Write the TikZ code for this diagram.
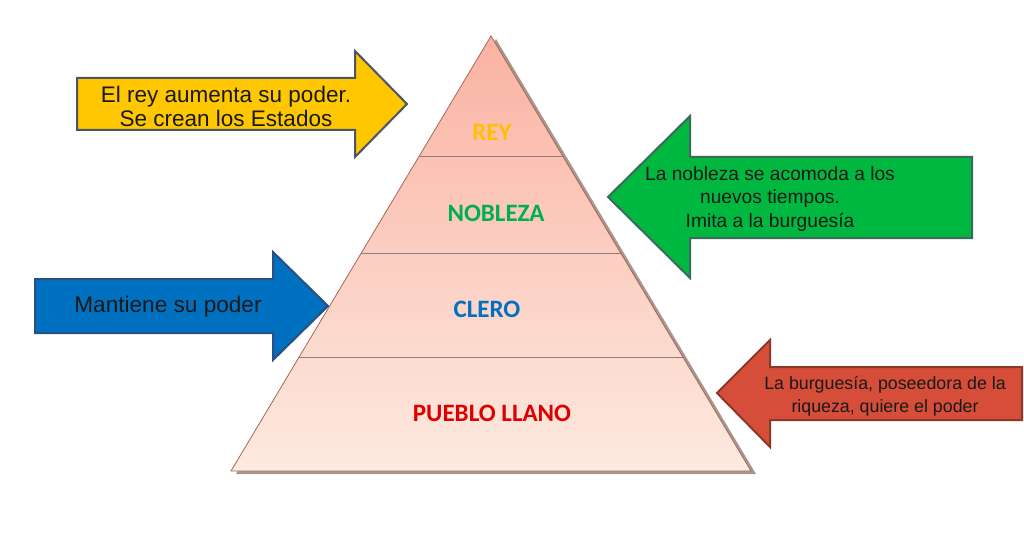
\documentclass[tikz,border=0pt]{standalone}
\usepackage{fontspec}
\setmainfont{Liberation Sans}
\newfontfamily\labelfont{Carlito}
\usetikzlibrary{calc}
\definecolor{pyrtop}{RGB}{250,178,162}
\definecolor{pyrbot}{RGB}{253,234,224}
\definecolor{pyredge}{RGB}{170,100,85}
\definecolor{divline}{RGB}{140,125,135}
\definecolor{shadowc}{RGB}{165,152,142}
\definecolor{yfill}{RGB}{255,199,0}
\definecolor{gfill}{RGB}{0,184,64}
\definecolor{bfill}{RGB}{0,112,192}
\definecolor{rfill}{RGB}{214,78,58}
\definecolor{yedge}{RGB}{75,85,100}
\definecolor{gedge}{RGB}{60,105,90}
\definecolor{bedge}{RGB}{40,80,130}
\definecolor{redge}{RGB}{140,55,40}
\definecolor{reyc}{RGB}{255,192,0}
\definecolor{noblc}{RGB}{0,176,80}
\definecolor{clerc}{RGB}{0,112,192}
\definecolor{puebc}{RGB}{220,0,0}
\definecolor{txt}{RGB}{25,25,25}
\tikzset{
  arrowshape/.style={line width=2pt, line join=miter},
  levellabel/.style={font=\labelfont\bfseries\fontsize{25}{28}\selectfont, inner sep=0pt},
  arrowtext/.style={text=txt, align=center, inner sep=0pt},
}
\begin{document}
\begin{tikzpicture}[x=1pt,y=-1pt]
\useasboundingbox[fill=white] (0,0) rectangle (1024,537);
% pyramid
\coordinate (apex) at (491,36);
\coordinate (bl) at (231,471);
\coordinate (br) at (751,471);
\fill[shadowc] ($(apex)+(5,3)$) -- ($(br)+(5,3)$) -- ($(bl)+(5,3)$) -- cycle;
\shade[top color=pyrtop, bottom color=pyrbot, draw=pyredge, line width=0.8pt] (apex) -- (br) -- (bl) -- cycle;
\coordinate (d1l) at ($(apex)!0.278!(bl)$);
\coordinate (d1r) at ($(apex)!0.278!(br)$);
\coordinate (d2l) at ($(apex)!0.499!(bl)$);
\coordinate (d2r) at ($(apex)!0.499!(br)$);
\coordinate (d3l) at ($(apex)!0.740!(bl)$);
\coordinate (d3r) at ($(apex)!0.740!(br)$);
\draw[divline, line width=0.9pt] (d1l) -- (d1r);
\draw[divline, line width=0.9pt] (d2l) -- (d2r);
\draw[divline, line width=0.9pt] (d3l) -- (d3r);
% level labels
\node[levellabel, text=reyc] (rey) at (492,132) {REY};
\node[levellabel, text=noblc] (nobleza) at (496,213) {NOBLEZA};
\node[levellabel, text=clerc] (clero) at (487,309) {CLERO};
\node[levellabel, text=puebc] (pueblo) at (492,413) {PUEBLO LLANO};
% yellow arrow
\draw[arrowshape, fill=yfill, draw=yedge] (77,78) -- (355,78) -- (355,51) -- (407,104) -- (355,157) -- (355,130) -- (77,130) -- cycle;
\node[arrowtext, font=\fontsize{22.5}{24}\selectfont] (ytext) at (226,106) {El rey aumenta su poder.\\Se crean los Estados};
% green arrow
\draw[arrowshape, fill=gfill, draw=gedge] (972,157) -- (690,157) -- (690,116) -- (608,197) -- (690,278) -- (690,238) -- (972,238) -- cycle;
\node[arrowtext, font=\fontsize{19.2}{23.5}\selectfont] (gtext) at (770,199) {La nobleza se acomoda a los\\nuevos tiempos.\\Imita a la burguesía};
% blue arrow
\draw[arrowshape, fill=bfill, draw=bedge] (35,279) -- (273,279) -- (273,252) -- (328,306) -- (273,360) -- (273,333) -- (35,333) -- cycle;
\node[arrowtext, font=\fontsize{22.6}{24}\selectfont] (btext) at (168,307) {Mantiene su poder};
% red arrow
\draw[arrowshape, fill=rfill, draw=redge] (1022,367) -- (770,367) -- (770,340) -- (717,393) -- (770,447) -- (770,420) -- (1022,420) -- cycle;
\node[arrowtext, font=\fontsize{17.8}{23}\selectfont] (rtext) at (885,396) {La burguesía, poseedora de la\\riqueza, quiere el poder};
\end{tikzpicture}
\end{document}
